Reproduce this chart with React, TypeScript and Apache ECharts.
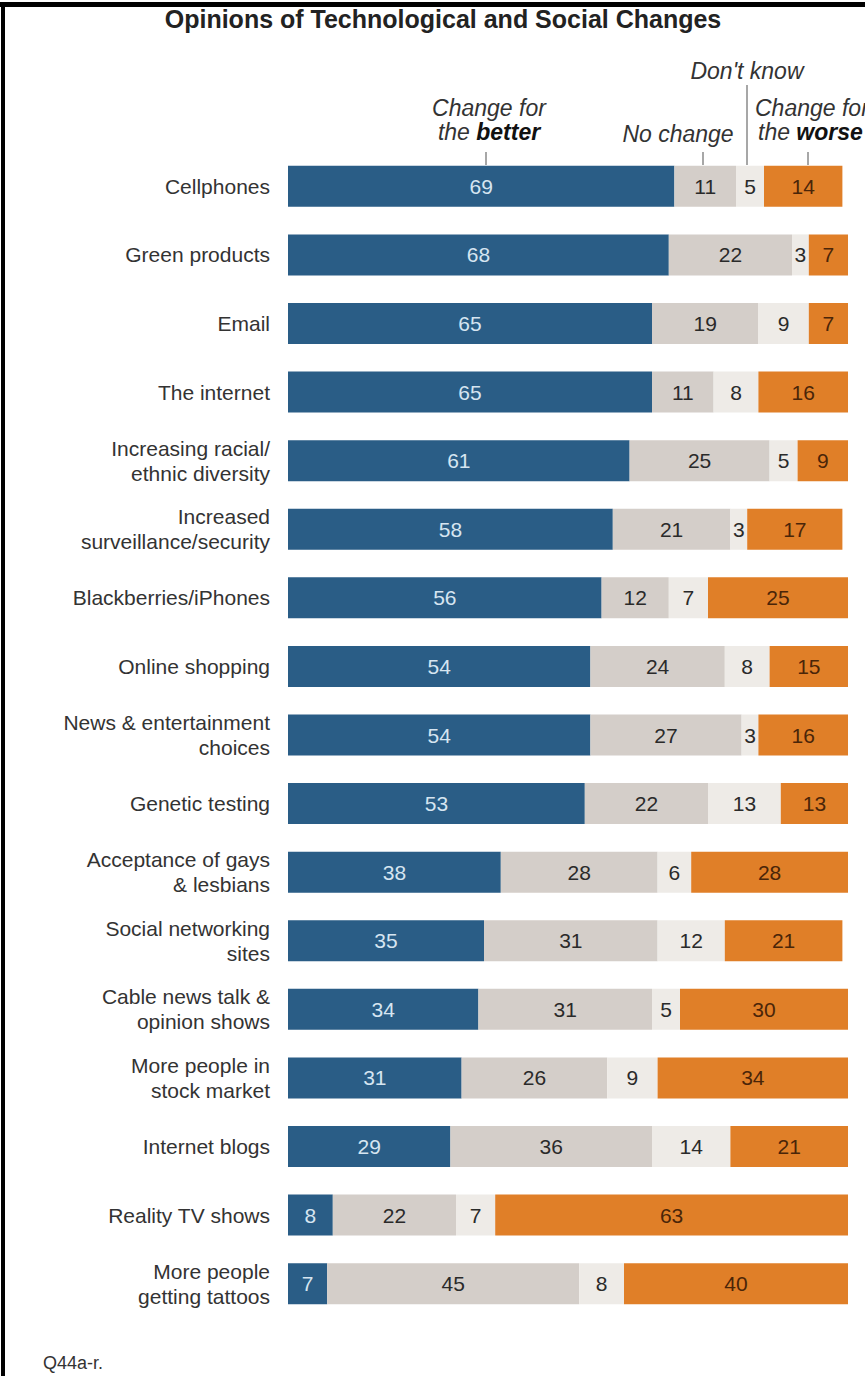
import React, { useEffect, useRef } from "react";
import * as echarts from "echarts";

const categories = [
  "Cellphones",
  "Green products",
  "Email",
  "The internet",
  "Increasing racial/\nethnic diversity",
  "Increased\nsurveillance/security",
  "Blackberries/iPhones",
  "Online shopping",
  "News & entertainment\nchoices",
  "Genetic testing",
  "Acceptance of gays\n& lesbians",
  "Social networking\nsites",
  "Cable news talk &\nopinion shows",
  "More people in\nstock market",
  "Internet blogs",
  "Reality TV shows",
  "More people\ngetting tattoos",
];

const better = [69, 68, 65, 65, 61, 58, 56, 54, 54, 53, 38, 35, 34, 31, 29, 8, 7];
const noChange = [11, 22, 19, 11, 25, 21, 12, 24, 27, 22, 28, 31, 31, 26, 36, 22, 45];
const dontKnow = [5, 3, 9, 8, 5, 3, 7, 8, 3, 13, 6, 12, 5, 9, 14, 7, 8];
const worse = [14, 7, 7, 16, 9, 17, 25, 15, 16, 13, 28, 21, 30, 34, 21, 63, 40];

const FONT = "'Liberation Sans', Arial, Helvetica, sans-serif";

export default function App() {
  const ref = useRef<HTMLDivElement>(null);

  useEffect(() => {
    document.body.style.margin = "0";
    if (!ref.current) return;
    const chart = echarts.init(ref.current, null, { renderer: "svg" });

    const mkSeries = (name: string, data: number[], color: string, labelColor: string) => ({
      name,
      type: "bar",
      stack: "total",
      data,
      barWidth: 41,
      itemStyle: { color },
      label: {
        show: true,
        position: "inside",
        color: labelColor,
        fontSize: 21,
        fontFamily: FONT,
      },
      emphasis: { disabled: true },
    });

    const headerText = (x: number, y: number, text: string, align: string, rich?: any) => ({
      type: "text",
      x,
      y,
      style: {
        text,
        fontFamily: FONT,
        fontSize: 23,
        fontStyle: "italic",
        fill: "#333",
        align,
        verticalAlign: "middle",
        rich,
      },
    });

    const boldRich = {
      b: { fontFamily: FONT, fontSize: 23, fontStyle: "italic", fontWeight: "bold", fill: "#111" },
    };

    const tick = (x: number, y1: number, y2: number) => ({
      type: "line",
      shape: { x1: x, y1, x2: x, y2 },
      style: { stroke: "#8a8a8a", lineWidth: 1.5 },
    });

    chart.setOption({
      animation: false,
      backgroundColor: "#ffffff",
      grid: { left: 288, width: 560, top: 152, height: 1166 },
      xAxis: { type: "value", min: 0, max: 100, show: false },
      yAxis: {
        type: "category",
        data: categories,
        inverse: true,
        axisLine: { show: false },
        axisTick: { show: false },
        axisLabel: {
          margin: 18,
          fontSize: 21,
          lineHeight: 25,
          color: "#333",
          fontFamily: FONT,
          align: "right",
        },
      },
      series: [
        mkSeries("Change for the better", better, "#2a5d86", "#d6e5f1"),
        mkSeries("No change", noChange, "#d4cec9", "#2a2a2a"),
        mkSeries("Don't know", dontKnow, "#eeebe7", "#2a2a2a"),
        mkSeries("Change for the worse", worse, "#e07f28", "#4a2508"),
      ],
      graphic: [
        { type: "rect", shape: { x: 0, y: 2, width: 865, height: 5 }, style: { fill: "#000" } },
        { type: "rect", shape: { x: 1, y: 2, width: 4, height: 1374 }, style: { fill: "#000" } },
        {
          type: "text",
          x: 443,
          y: 19,
          style: {
            text: "Opinions of Technological and Social Changes",
            fontFamily: FONT,
            fontSize: 25,
            fontWeight: "bold",
            fill: "#222",
            align: "center",
            verticalAlign: "middle",
          },
        },
        headerText(747, 71, "Don't know", "center"),
        headerText(489, 108, "Change for", "center"),
        headerText(489, 132, "the {b|better}", "center", boldRich),
        headerText(678, 134, "No change", "center"),
        headerText(755, 108, "Change for", "left"),
        headerText(758, 132, "the {b|worse}", "left", boldRich),
        tick(486, 152, 165),
        tick(703, 152, 165),
        tick(747, 85, 165),
        tick(808, 152, 165),
        {
          type: "text",
          x: 43,
          y: 1363,
          style: {
            text: "Q44a-r.",
            fontFamily: FONT,
            fontSize: 18,
            fill: "#333",
            align: "left",
            verticalAlign: "middle",
          },
        },
      ],
    });

    return () => chart.dispose();
  }, []);

  return <div ref={ref} style={{ width: 865, height: 1376 }} />;
}
